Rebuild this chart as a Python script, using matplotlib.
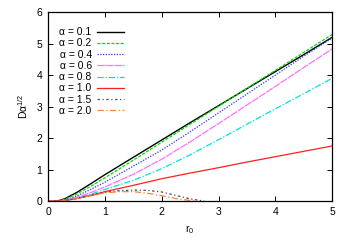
import numpy as np
import matplotlib
matplotlib.use('Agg')
import matplotlib.pyplot as plt

plt.rcParams['font.family'] = ['Liberation Sans', 'DejaVu Sans']
plt.rcParams['mathtext.fontset'] = 'custom'
plt.rcParams['mathtext.rm'] = 'Liberation Sans'
plt.rcParams['mathtext.it'] = 'Liberation Sans'

# r0 grid for the growing curves
r0 = [0.0, 0.1, 0.2, 0.3, 0.5, 0.75, 1.0, 1.5, 2.0, 2.5, 3.0, 3.5, 4.0, 4.5, 5.0]
d_01 = [0, 0, 0.02, 0.08, 0.27, 0.55, 0.84, 1.39, 1.94, 2.49, 3.03, 3.57, 4.11, 4.65, 5.20]
d_02 = [0, 0, 0.015, 0.06, 0.22, 0.47, 0.74, 1.30, 1.87, 2.44, 3.01, 3.58, 4.15, 4.72, 5.29]
d_04 = [0, 0, 0.01, 0.04, 0.16, 0.37, 0.60, 1.11, 1.62, 2.20, 2.80, 3.40, 4.00, 4.60, 5.18]
d_06 = [0, 0, 0.01, 0.03, 0.12, 0.27, 0.45, 0.85, 1.33, 1.88, 2.46, 3.05, 3.64, 4.24, 4.83]
d_08 = [0, 0, 0.005, 0.02, 0.09, 0.22, 0.37, 0.66, 1.03, 1.47, 1.95, 2.44, 2.93, 3.41, 3.90]
d_10 = [0, 0, 0.005, 0.02, 0.08, 0.18, 0.30, 0.50, 0.71, 0.89, 1.06, 1.24, 1.41, 1.58, 1.75]

# bump curves
r0_15 = [0.0, 0.1, 0.2, 0.3, 0.5, 0.75, 1.0, 1.25, 1.5, 1.75, 2.0, 2.25, 2.5, 2.75]
d_15 = [0, 0, 0.005, 0.02, 0.08, 0.18, 0.28, 0.33, 0.35, 0.34, 0.29, 0.18, 0.07, 0.0]
r0_20 = [0.0, 0.1, 0.2, 0.3, 0.5, 0.75, 1.0, 1.25, 1.5, 1.75, 2.0, 2.25, 2.5, 2.6]
d_20 = [0, 0, 0.005, 0.02, 0.08, 0.17, 0.26, 0.30, 0.30, 0.25, 0.17, 0.08, 0.02, 0.0]

labels = ['α = 0.1', 'α = 0.2', 'α = 0.4', 'α = 0.6', 'α = 0.8', 'α = 1.0', 'α = 1.5', 'α = 2.0']

fig = plt.figure(figsize=(3.46, 2.42), dpi=100)
ax = fig.add_axes([0.139, 0.169, 0.821, 0.781])

ax.plot(r0, d_01, color='black', lw=1.0, label=labels[0])
ax.plot(r0, d_02, color='#00dd00', lw=0.9, dashes=(2.5, 1.2), label=labels[1])
ax.plot(r0, d_04, color='#3030ff', lw=0.9, dashes=(1, 1.2), label=labels[2])
ax.plot(r0, d_06, color='#ff70ff', lw=0.9, dashes=(6, 0.8), label=labels[3])
ax.plot(r0, d_08, color='#00e0e0', lw=0.9, dashes=(5, 1.5, 1, 1.5), label=labels[4])
ax.plot(r0, d_10, color='#ff2020', lw=0.9, label=labels[5])
ax.plot(r0_15, d_15, color='#505050', lw=0.9, dashes=(2, 2, 1, 2), label=labels[6])
ax.plot(r0_20, d_20, color='#ff8040', lw=0.9, dashes=(5, 2, 1, 2), label=labels[7])

ax.set_xlim(0, 5)
ax.set_ylim(0, 6)
ax.set_xticks([0, 1, 2, 3, 4, 5])
ax.set_yticks([0, 1, 2, 3, 4, 5, 6])
ax.tick_params(direction='in', top=True, right=True, length=3.5, width=0.7,
               labelsize=7.5, pad=4)
for s in ax.spines.values():
    s.set_linewidth(0.9)

ax.set_xlabel(r'r$_0$', fontsize=7.5, labelpad=5)
ax.set_ylabel(r'D$\mathregular{\alpha^{1/2}}$', fontsize=7.5, labelpad=5)

leg = ax.legend(loc='upper left', bbox_to_anchor=(0.04, 0.92), frameon=False,
                markerfirst=False, fontsize=7.5, handlelength=2.6,
                handletextpad=0.5, labelspacing=0.12, borderpad=0,
                borderaxespad=0)

fig.savefig('out.png', dpi=100)
